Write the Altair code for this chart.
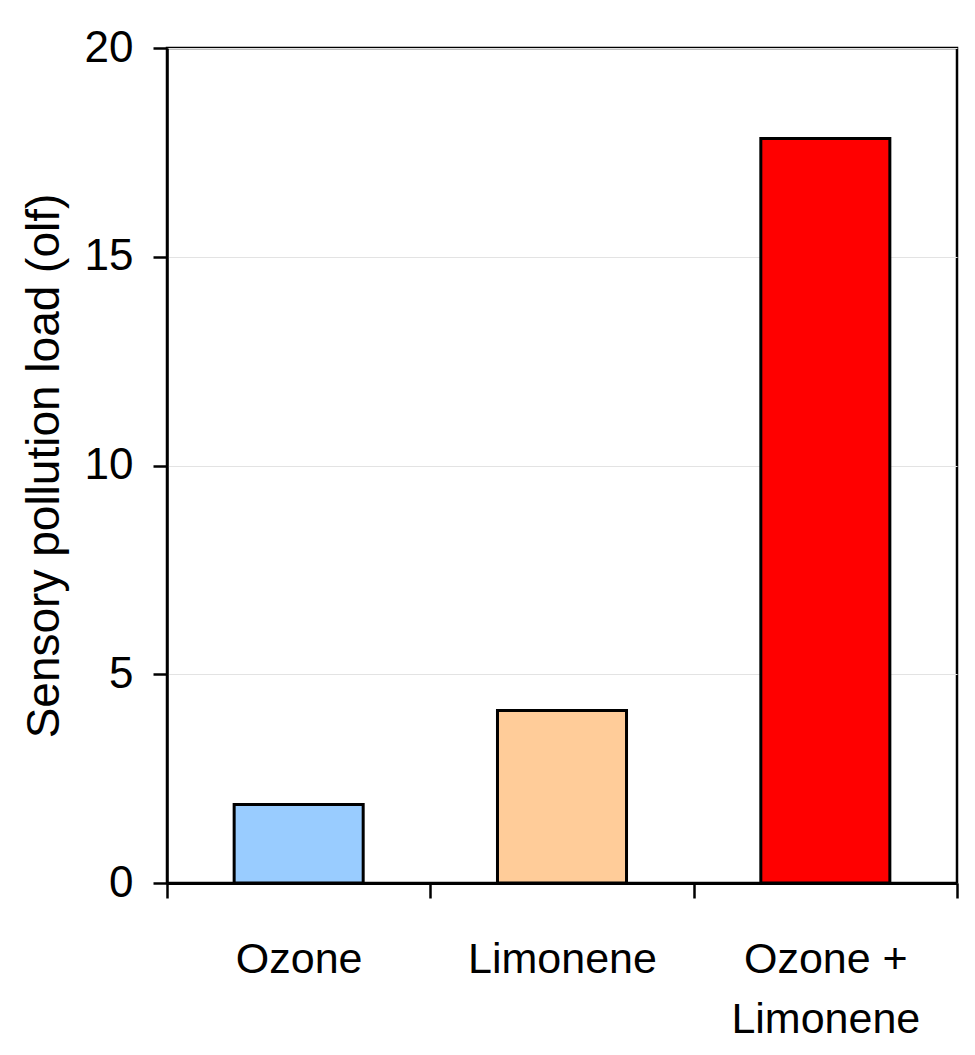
import altair as alt
import pandas as pd

categories = ["Ozone", "Limonene", "Ozone + Limonene"]
values = [1.88, 4.13, 17.83]
colors = ["#99CCFF", "#FFCC99", "#FF0000"]

df = pd.DataFrame({"category": categories, "value": values})

FONT = "Liberation Sans"

chart = alt.Chart(df).mark_bar(
    stroke="black", strokeWidth=3, width={"band": 0.49}
).encode(
    x=alt.X(
        "category:N",
        sort=categories,
        scale=alt.Scale(paddingInner=0, paddingOuter=0),
        axis=alt.Axis(
            title=None,
            labelAngle=0,
            labelFont=FONT,
            labelFontSize=43,
            labelColor="black",
            labelPadding=40,
            labelLineHeight=60,
            labelLimit=500,
            labelExpr="datum.label == 'Ozone + Limonene' ? ['Ozone +', 'Limonene'] : datum.label",
            tickBand="extent",
            tickSize=15,
            tickWidth=2.5,
            tickColor="black",
            domainColor="black",
            domainWidth=3,
            grid=False,
        ),
    ),
    y=alt.Y(
        "value:Q",
        scale=alt.Scale(domain=[0, 20], nice=False),
        axis=alt.Axis(
            title="Sensory pollution load (olf)",
            titleFont=FONT,
            titleFontSize=46,
            titleFontWeight="normal",
            titleColor="black",
            titlePadding=16,
            values=[0, 5, 10, 15, 20],
            labelFont=FONT,
            labelFontSize=44,
            labelColor="black",
            labelPadding=20,
            tickSize=14,
            tickWidth=2.5,
            tickColor="black",
            domainColor="black",
            domainWidth=2.5,
            grid=True,
            gridColor="#e3e3e3",
            gridWidth=1,
        ),
    ),
    color=alt.Color("category:N", sort=categories,
                    scale=alt.Scale(domain=categories, range=colors), legend=None),
).properties(
    width=790,
    height=835,
    autosize=alt.AutoSizeParams(type="none"),
    padding={"left": 159, "top": 40, "right": 10, "bottom": 165},
).configure_view(
    stroke="black", strokeWidth=2.5
)

chart.save("out.html", embed_options={"renderer": "svg", "actions": False})
